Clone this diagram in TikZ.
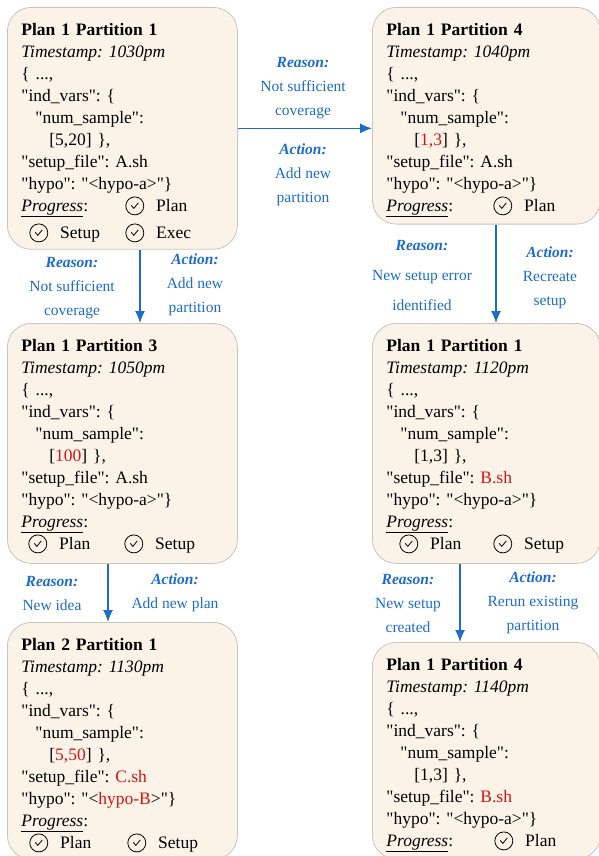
\documentclass[tikz,border=0pt]{standalone}
\usepackage{fontspec}
\setmainfont{Liberation Serif}[Ligatures=TeXOff]
\usetikzlibrary{arrows.meta}
\frenchspacing

\definecolor{cream}{RGB}{252,243,232}
\definecolor{edgegray}{RGB}{200,196,192}
\definecolor{flowblue}{RGB}{28,108,200}
\definecolor{hired}{RGB}{215,20,20}

\newcommand{\chk}{\tikz[baseline=-5.5pt, sharp corners, black, line width=0.8pt]{\draw (0,0) circle (9pt); \draw (-3.5pt,0.5pt) -- (-1pt,-2.5pt) -- (3.5pt,3pt);}}
\newcommand{\prog}{\underline{\textit{Progress}}:}
\newcommand{\hl}[1]{\textcolor{hired}{#1}}

\begin{document}
\begin{tikzpicture}[x=1pt, y=1pt,
    card/.style={draw=edgegray, line width=0.8pt, fill=cream, rounded corners=24pt,
      anchor=north west, align=left, inner xsep=14pt, inner ysep=7pt,
      font=\fontsize{17.5}{22}\selectfont, execute at begin node=\rule{0pt}{21pt}},
    why/.style={text=flowblue, align=center, font=\fontsize{15.5}{24}\selectfont},
    flow/.style={draw=flowblue, line width=1.2pt, -{Latex[length=12pt,width=10pt]}}]
  \useasboundingbox (0,0) rectangle (599,-856);

  % plan 1 partition 1
  \node[card, text width=202pt] (b1) at (7,-7) {\textbf{Plan 1 Partition 1}\\
    \textit{Timestamp: 1030pm}\\
    \{ ...,\\
    "ind\_vars": \{\\
    \hspace*{14pt}"num\_sample":\\
    \hspace*{28pt}[5,20] \},\\
    "setup\_file": A.sh\\
    "hypo": "<hypo-a>"\}\\
    \makebox[104pt][l]{\prog}\chk\hspace{12pt}Plan\\[5pt]
    \hspace*{8pt}\makebox[96pt][l]{\chk\hspace{12pt}Setup}\chk\hspace{12pt}Exec};

  % plan 1 partition 4
  \node[card, text width=200pt] (b2) at (372,-7) {\textbf{Plan 1 Partition 4}\\
    \textit{Timestamp: 1040pm}\\
    \{ ...,\\
    "ind\_vars": \{\\
    \hspace*{14pt}"num\_sample":\\
    \hspace*{28pt}[\hl{1,3}] \},\\
    "setup\_file": A.sh\\
    "hypo": "<hypo-a>"\}\\
    \makebox[107pt][l]{\prog}\chk\hspace{12pt}Plan};

  % plan 1 partition 3
  \node[card, text width=202pt] (b3) at (7,-323) {\textbf{Plan 1 Partition 3}\\
    \textit{Timestamp: 1050pm}\\
    \{ ...,\\
    "ind\_vars": \{\\
    \hspace*{14pt}"num\_sample":\\
    \hspace*{28pt}[\hl{100}] \},\\
    "setup\_file": A.sh\\
    "hypo": "<hypo-a>"\}\\
    \prog\\
    \hspace*{7pt}\makebox[96pt][l]{\chk\hspace{12pt}Plan}\chk\hspace{12pt}Setup\rule[-7pt]{0pt}{7pt}};

  % plan 1 partition 1, new setup
  \node[card, text width=200pt] (b4) at (372,-323) {\textbf{Plan 1 Partition 1}\\
    \textit{Timestamp: 1120pm}\\
    \{ ...,\\
    "ind\_vars": \{\\
    \hspace*{14pt}"num\_sample":\\
    \hspace*{28pt}[1,3] \},\\
    "setup\_file": \hl{B.sh}\\
    "hypo": "<hypo-a>"\}\\
    \prog\\
    \hspace*{13pt}\makebox[94pt][l]{\chk\hspace{12pt}Plan}\chk\hspace{12pt}Setup\rule[-7pt]{0pt}{7pt}};

  % plan 2 partition 1
  \node[card, text width=202pt] (b5) at (7,-622) {\textbf{Plan 2 Partition 1}\\
    \textit{Timestamp: 1130pm}\\
    \{ ...,\\
    "ind\_vars": \{\\
    \hspace*{14pt}"num\_sample":\\
    \hspace*{28pt}[\hl{5,50}] \},\\
    "setup\_file": \hl{C.sh}\\
    "hypo": "<\hl{hypo-B}>"\}\\
    \prog\\
    \hspace*{8pt}\makebox[98pt][l]{\chk\hspace{12pt}Plan}\chk\hspace{12pt}Setup};

  % plan 1 partition 4, rerun
  \node[card, text width=200pt] (b6) at (372,-642) {\textbf{Plan 1 Partition 4}\\
    \textit{Timestamp: 1140pm}\\
    \{ ...,\\
    "ind\_vars": \{\\
    \hspace*{14pt}"num\_sample":\\
    \hspace*{28pt}[1,3] \},\\
    "setup\_file": \hl{B.sh}\\
    "hypo": "<hypo-a>"\}\\
    \makebox[108pt][l]{\prog}\chk\hspace{12pt}Plan};

  % reasons and actions
  \node[why] (r12) at (303,-88) {\textbf{\textit{Reason:}}\\Not sufficient\\coverage};
  \node[why] (a12) at (303,-175) {\textbf{\textit{Action:}}\\Add new\\partition};
  \node[why] (r13) at (72,-288) {\textbf{\textit{Reason:}}\\Not sufficient\\coverage};
  \node[why] (a13) at (195,-285) {\textbf{\textit{Action:}}\\Add new\\partition};
  \node[why] (r24) at (422,-275) {\textbf{\textit{Reason:}}\\[6pt]New setup error\\[6pt]identified};
  \node[why] (a24) at (550,-278) {\textbf{\textit{Action:}}\\Recreate\\setup};
  \node[why] (r35) at (52,-593) {\textbf{\textit{Reason:}}\\New idea};
  \node[why] (a35) at (175,-593) {\textbf{\textit{Action:}}\\Add new plan};
  \node[why] (r46) at (408,-603) {\textbf{\textit{Reason:}}\\New setup\\created};
  \node[why] (a46) at (533,-603) {\textbf{\textit{Action:}}\\Rerun existing\\partition};

  \coordinate (x13) at (140,0);
  \coordinate (x24) at (496,0);
  \coordinate (x35) at (108,0);
  \coordinate (x46) at (460,0);

  \draw[flow] (b1.east) -- (b1.east -| b2.west);
  \draw[flow] (b1.south -| x13) -- (b3.north -| x13);
  \draw[flow] (b2.south -| x24) -- (b4.north -| x24);
  \draw[flow] (b3.south -| x35) -- (b5.north -| x35);
  \draw[flow] (b4.south -| x46) -- (b6.north -| x46);
\end{tikzpicture}
\end{document}
